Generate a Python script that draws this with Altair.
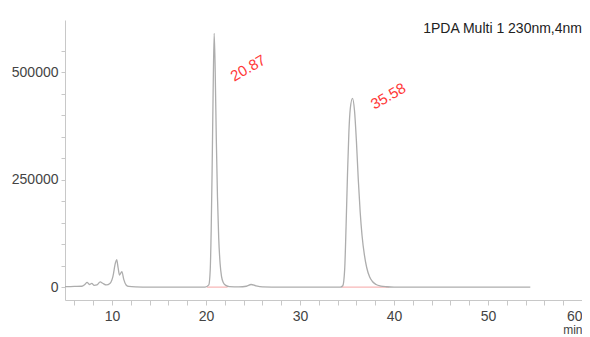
import altair as alt
import pandas as pd

# ---- data ----
time_min = [5.0, 6.0, 6.8, 7.1, 7.35, 7.6, 7.85, 8.1, 8.4, 8.75, 9.0, 9.4, 9.8, 10.1, 10.35, 10.5,
            10.65, 10.8, 11.05, 11.25, 11.5, 11.8, 12.5, 14.0, 19.9,
            20.3, 20.45, 20.55, 20.65, 20.75, 20.87, 20.98, 21.1, 21.22, 21.35, 21.5, 21.65, 21.85,
            22.1, 22.5, 23.5, 24.3, 24.8, 25.3, 26.0, 28.0, 34.3,
            34.55, 34.75, 34.9, 35.05, 35.2, 35.35, 35.58, 35.8, 36.0, 36.2, 36.4, 36.6, 36.85,
            37.1, 37.4, 37.7, 38.1, 38.6, 39.2, 40.0, 54.5]
intensity = [1000, 1500, 2000, 6000, 11000, 6000, 8500, 4000, 5000, 12000, 9000, 5000, 9000, 25000,
             55000, 64000, 45000, 28000, 36000, 18000, 5000, 1500, 500, 0, 0,
             5000, 40000, 130000, 270000, 440000, 590000, 500000, 340000, 210000, 115000, 55000,
             25000, 10000, 4000, 1000, 500, 2000, 6000, 3000, 500, 0, 0,
             3000, 40000, 140000, 260000, 360000, 415000, 439000, 410000, 340000, 250000, 175000,
             120000, 75000, 45000, 24000, 13000, 6000, 2500, 800, 0, 0]

peak_rt = [20.87, 35.58]
peak_height = [590000, 439000]
peak_text = ["20.87", "35.58"]

baseline_start = [20.1, 34.4]
baseline_end = [22.3, 39.5]

x_tick_values = list(range(6, 61, 2))
y_tick_values = list(range(0, 550001, 50000))
detector_label = "1PDA Multi 1 230nm,4nm"

trace = pd.DataFrame({"t": time_min, "v": intensity})
peaks = pd.DataFrame({"t": peak_rt, "v": peak_height, "label": peak_text})
bases = pd.DataFrame({"t": baseline_start, "t2": baseline_end, "v": [0, 0]})

FONT = "Liberation Sans"
W, H = 517, 280
AX_COLOR = "#c8c8c8"
LAB_COLOR = "#444444"

x_scale = alt.Scale(domain=[5, 60], nice=False, zero=False)
y_scale = alt.Scale(domain=[-30000, 621000], nice=False, zero=False)

x_axis = alt.Axis(values=x_tick_values, format="d",
                  labelExpr="datum.value % 10 == 0 ? datum.label : ''",
                  labelFlush=True, labelOverlap=False, grid=False,
                  tickSize=5, labelPadding=4,
                  domainColor=AX_COLOR, tickColor=AX_COLOR,
                  labelColor=LAB_COLOR, labelFont=FONT, labelFontSize=14,
                  title="min", titleX=W, titleY=24, titleAlign="right",
                  titleBaseline="top", titleFont=FONT, titleFontSize=12,
                  titleFontWeight="normal", titleColor=LAB_COLOR)
y_axis = alt.Axis(values=y_tick_values, format="d",
                  labelExpr="datum.value % 250000 == 0 ? datum.label : ''",
                  labelOverlap=False, grid=False, tickSize=4, labelPadding=3,
                  domainColor=AX_COLOR, tickColor=AX_COLOR,
                  labelColor=LAB_COLOR, labelFont=FONT, labelFontSize=14,
                  title=None)

X = alt.X("t:Q", scale=x_scale, axis=x_axis)
Y = alt.Y("v:Q", scale=y_scale, axis=y_axis)

base_lines = alt.Chart(bases).mark_rule(color="#f5a5a5", strokeWidth=1).encode(
    x=X, x2="t2:Q", y=Y,
)

line = alt.Chart(trace).mark_line(color="#adadad", strokeWidth=1.3, interpolate="monotone").encode(
    x=X, y=Y,
)

# dx/dy are in the rotated text frame (angle 330)
def peak_label(i, dx, dy):
    return alt.Chart(peaks).transform_filter(
        alt.datum.label == peak_text[i]
    ).mark_text(color="#ff3838", font=FONT, fontSize=15, angle=330,
                align="center", baseline="middle", dx=dx, dy=dy).encode(
        x=X, y=Y, text="label:N",
    )

title_txt = alt.Chart(pd.DataFrame({"s": [detector_label]})).mark_text(
    font=FONT, fontSize=14, color="#222", align="right", baseline="alphabetic"
).encode(x=alt.value(W), y=alt.value(13), text="s:N")

chart = alt.layer(base_lines, line, peak_label(0, 12, 47), peak_label(1, 32, 16), title_txt).properties(
    width=W, height=H,
    autosize=alt.AutoSizeParams(type="none"),
    padding={"left": 57, "top": 12, "right": 0, "bottom": 38},
    background="white",
).configure_view(stroke=None)

chart.save("out.html", embed_options={"renderer": "svg", "actions": False})
